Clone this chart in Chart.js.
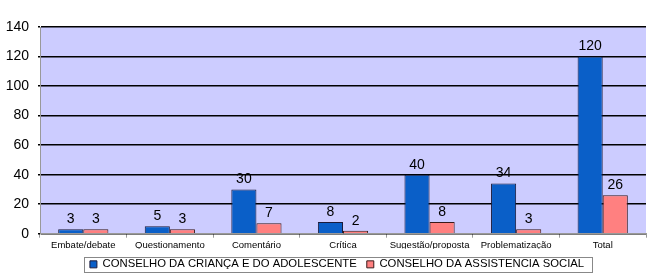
<!DOCTYPE html>
<html>
<head>
<meta charset="utf-8">
<script src="https://cdn.jsdelivr.net/npm/chart.js@4"></script>
<style>
  html, body { margin: 0; padding: 0; background: #fff; }
  #wrap { width: 650px; height: 280px; }
</style>
</head>
<body>
<div id="wrap"><canvas id="chart" width="650" height="280"></canvas></div>
<script>
const categories = ["Embate/debate", "Questionamento", "Comentário", "Crítica", "Sugestão/proposta", "Problematização", "Total"];
const criancaValues = [3, 5, 30, 8, 40, 34, 120];
const assistenciaValues = [3, 3, 7, 2, 8, 3, 26];
const seriesNames = ["CONSELHO DA CRIANÇA E DO ADOLESCENTE", "CONSELHO DA ASSISTENCIA SOCIAL"];

// values above each bar
const valueLabels = {
  id: "valueLabels",
  afterDatasetsDraw(chart) {
    const c = chart.ctx;
    c.save();
    c.font = "14px 'Liberation Sans', Arial, sans-serif";
    c.fillStyle = "#000";
    c.textAlign = "center";
    c.textBaseline = "bottom";
    chart.data.datasets.forEach((ds, i) => {
      chart.getDatasetMeta(i).data.forEach((bar, j) => {
        c.fillText(ds.data[j], bar.x, bar.y - 3);
      });
    });
    c.restore();
  },
};

// plot background + legend frame
const frame = {
  id: "frame",
  afterLayout(chart) {
    // legend sits centred under the plot area, not the canvas
    const l = chart.legend;
    const shift = 14;
    l.left += shift;
    l.right += shift;
    l.legendHitBoxes.forEach((h) => { h.left += shift; });
  },
  beforeDraw(chart) {
    const a = chart.chartArea;
    const c = chart.ctx;
    c.save();
    c.fillStyle = "#CCCCFF";
    c.fillRect(a.left, a.top, a.right - a.left, a.bottom - a.top);
    c.restore();
  },
  afterDraw(chart) {
    const l = chart.legend;
    const c = chart.ctx;
    const first = l.legendHitBoxes[0];
    const last = l.legendHitBoxes[l.legendHitBoxes.length - 1];
    const x0 = Math.round(first.left) - 5.5;
    const x1 = Math.round(last.left + last.width) + 8.5;
    c.save();
    c.strokeStyle = "#888";
    c.lineWidth = 1;
    c.strokeRect(x0, Math.round(first.top) - 1.5, x1 - x0, 15);
    c.restore();
  },
};

new Chart(document.getElementById("chart"), {
  type: "bar",
  data: {
    labels: categories,
    datasets: [
      {
        label: seriesNames[0],
        data: criancaValues,
        backgroundColor: "#0A5FC8",
        borderColor: "#1a1a3a",
        borderWidth: 1,
        categoryPercentage: 0.58,
        barPercentage: 1.0,
      },
      {
        label: seriesNames[1],
        data: assistenciaValues,
        backgroundColor: "#FF8080",
        borderColor: "#3a1a1a",
        borderWidth: 1,
        categoryPercentage: 0.58,
        barPercentage: 1.0,
      },
    ],
  },
  options: {
    responsive: false,
    animation: false,
    layout: { padding: { top: 27, right: 4, left: 0, bottom: 0 } },
    plugins: {
      tooltip: { enabled: false },
      legend: {
        position: "bottom",
        labels: {
          color: "#000",
          font: { family: "'Liberation Sans', Arial, sans-serif", size: 11.3 },
          boxWidth: 7,
          boxHeight: 7,
          padding: 10,
          useBorderRadius: false,
        },
      },
    },
    scales: {
      x: {
        afterFit: (s) => { s.height = 15; },
        grid: {
          offset: true,
          drawOnChartArea: false,
          color: "#999",
          tickLength: 4,
        },
        border: { color: "#999" },
        ticks: {
          color: "#000",
          font: { family: "'Liberation Sans', Arial, sans-serif", size: 9.5 },
          maxRotation: 0,
          autoSkip: false,
          padding: 2,
        },
      },
      y: {
        min: 0,
        max: 140,
        afterFit: (s) => { s.width = 40; },
        grid: { color: "#000", lineWidth: 1.5, tickLength: 2 },
        border: { color: "#999" },
        ticks: {
          stepSize: 20,
          color: "#000",
          font: { family: "'Liberation Sans', Arial, sans-serif", size: 14 },
          padding: 9,
        },
      },
    },
  },
  plugins: [frame, valueLabels],
});
</script>
</body>
</html>
